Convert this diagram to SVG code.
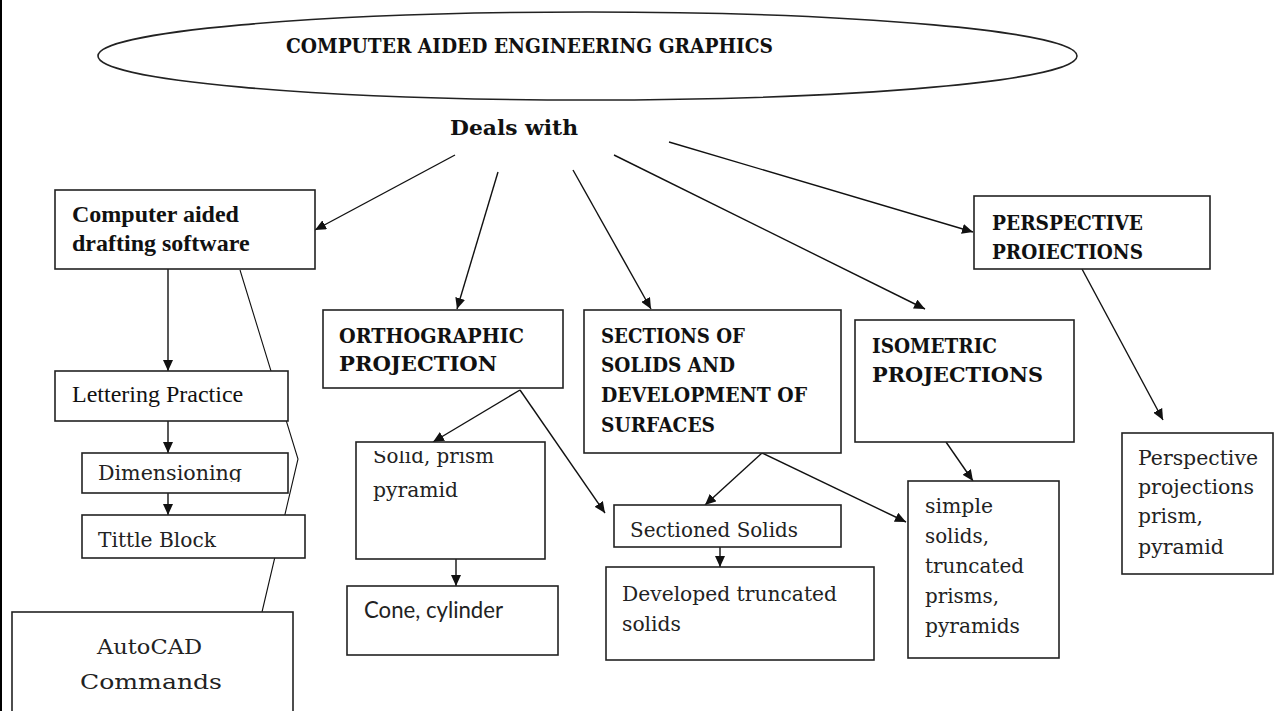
<svg xmlns="http://www.w3.org/2000/svg" width="1275" height="711" viewBox="0 0 1275 711">
<style>
.box{fill:#fff;stroke:#222;stroke-width:1.6}
.ln{stroke:#111;stroke-width:1.4;fill:none}
.tb{font-family:"Liberation Serif",serif;font-weight:bold;font-size:24px;fill:#111}
.tr{font-family:"Liberation Serif",serif;font-size:24px;fill:#111}
.cb{font-family:"DejaVu Serif","Liberation Serif",serif;font-weight:bold;font-size:21px;fill:#111}
.cr{font-family:"DejaVu Serif","Liberation Serif",serif;font-size:21px;fill:#222}
.sn{font-family:Lato,"Liberation Sans",sans-serif;font-size:23px;fill:#222}
</style>
<defs>
<marker id="ah" markerUnits="userSpaceOnUse" markerWidth="11" markerHeight="10" refX="11" refY="5" orient="auto">
<path d="M0,0 L11,5 L0,10 z" fill="#111"/>
</marker>
<clipPath id="clipDim"><rect x="82" y="453" width="206" height="29"/></clipPath>
<clipPath id="clipSolid"><rect x="356" y="451" width="189" height="108"/></clipPath>
</defs>
<rect width="1275" height="711" fill="#fff"/>
<line x1="1" y1="0" x2="1" y2="711" stroke="#000" stroke-width="2"/>

<g id="title">
<ellipse cx="587.5" cy="56" rx="489.5" ry="44" fill="none" stroke="#222" stroke-width="1.6"/>
<text class="cb" x="286" y="53" font-size="19.5" textLength="487" lengthAdjust="spacingAndGlyphs">COMPUTER AIDED ENGINEERING GRAPHICS</text>
</g>
<g id="deals">
<text class="cb" x="450" y="135" font-size="21" textLength="128" lengthAdjust="spacingAndGlyphs">Deals with</text>
</g>

<g id="connectors">
<line class="ln" x1="455" y1="155" x2="315" y2="230" marker-end="url(#ah)"/>
<line class="ln" x1="498" y1="172" x2="457" y2="309" marker-end="url(#ah)"/>
<line class="ln" x1="573" y1="170" x2="651" y2="309" marker-end="url(#ah)"/>
<line class="ln" x1="614" y1="155" x2="925" y2="309" marker-end="url(#ah)"/>
<line class="ln" x1="669" y1="142" x2="973" y2="232" marker-end="url(#ah)"/>
<line class="ln" x1="168" y1="269" x2="168" y2="371" marker-end="url(#ah)"/>
<line class="ln" x1="168" y1="421" x2="168" y2="453" marker-end="url(#ah)"/>
<line class="ln" x1="168" y1="493" x2="168" y2="515" marker-end="url(#ah)"/>
<line class="ln" x1="520" y1="390" x2="433" y2="442" marker-end="url(#ah)"/>
<line class="ln" x1="520" y1="390" x2="605" y2="513" marker-end="url(#ah)"/>
<line class="ln" x1="456" y1="559" x2="456" y2="586" marker-end="url(#ah)"/>
<line class="ln" x1="762" y1="453" x2="705" y2="505" marker-end="url(#ah)"/>
<line class="ln" x1="762" y1="453" x2="906" y2="522" marker-end="url(#ah)"/>
<line class="ln" x1="720" y1="547" x2="720" y2="567" marker-end="url(#ah)"/>
<line class="ln" x1="946" y1="442" x2="973" y2="481" marker-end="url(#ah)"/>
<line class="ln" x1="1082" y1="269" x2="1163" y2="420" marker-end="url(#ah)"/>
<polyline points="240,270 298,459 262,612" fill="none" stroke="#111" stroke-width="1.1"/>
</g>

<g id="cad-software">
<rect class="box" x="55" y="190" width="260" height="79"/>
<text class="tb" x="72" y="222">Computer aided</text>
<text class="tb" x="72" y="251">drafting software</text>
</g>
<g id="lettering">
<rect class="box" x="55" y="371" width="233" height="50"/>
<text class="tr" x="72" y="402">Lettering Practice</text>
</g>
<g id="dimensioning">
<rect class="box" x="82" y="453" width="206" height="40"/>
<text class="cr" x="98" y="480" textLength="144" lengthAdjust="spacingAndGlyphs" clip-path="url(#clipDim)">Dimensioning</text>
</g>
<g id="title-block">
<rect class="box" x="82" y="515" width="223" height="43"/>
<text class="cr" x="98" y="547" textLength="118" lengthAdjust="spacingAndGlyphs">Tittle Block</text>
</g>
<g id="autocad">
<rect class="box" x="12" y="612" width="281" height="110"/>
<text class="cr" x="97" y="654" font-size="27" textLength="105" lengthAdjust="spacingAndGlyphs">AutoCAD</text>
<text class="cr" x="80" y="689" font-size="27" textLength="142" lengthAdjust="spacingAndGlyphs">Commands</text>
</g>

<g id="orthographic">
<rect class="box" x="323" y="310" width="240" height="78"/>
<text class="cb" x="339" y="343" textLength="185" lengthAdjust="spacingAndGlyphs">ORTHOGRAPHIC</text>
<text class="cb" x="339" y="371" textLength="158" lengthAdjust="spacingAndGlyphs">PROJECTION</text>
</g>
<g id="solid-prism">
<rect class="box" x="356" y="442" width="189" height="117"/>
<g clip-path="url(#clipSolid)">
<text class="cr" x="373" y="463" textLength="121" lengthAdjust="spacingAndGlyphs">Solid, prism</text>
<text class="cr" x="373" y="497" textLength="85" lengthAdjust="spacingAndGlyphs">pyramid</text>
</g>
</g>
<g id="cone">
<rect class="box" x="347" y="586" width="211" height="69"/>
<text class="sn" x="364" y="618" textLength="139" lengthAdjust="spacingAndGlyphs">Cone, cylinder</text>
</g>

<g id="sections">
<rect class="box" x="584" y="310" width="257" height="143"/>
<text class="cb" x="601" y="343" textLength="144" lengthAdjust="spacingAndGlyphs">SECTIONS OF</text>
<text class="cb" x="601" y="372" textLength="134" lengthAdjust="spacingAndGlyphs">SOLIDS AND</text>
<text class="cb" x="601" y="402" textLength="206" lengthAdjust="spacingAndGlyphs">DEVELOPMENT OF</text>
<text class="cb" x="601" y="432" textLength="114" lengthAdjust="spacingAndGlyphs">SURFACES</text>
</g>
<g id="sectioned-solids">
<rect class="box" x="614" y="505" width="227" height="42"/>
<text class="cr" x="630" y="537" textLength="168" lengthAdjust="spacingAndGlyphs">Sectioned Solids</text>
</g>
<g id="developed">
<rect class="box" x="606" y="567" width="268" height="93"/>
<text class="cr" x="622" y="601" textLength="215" lengthAdjust="spacingAndGlyphs">Developed truncated</text>
<text class="cr" x="622" y="631" textLength="59" lengthAdjust="spacingAndGlyphs">solids</text>
</g>

<g id="isometric">
<rect class="box" x="855" y="320" width="219" height="122"/>
<text class="cb" x="872" y="353" textLength="125" lengthAdjust="spacingAndGlyphs">ISOMETRIC</text>
<text class="cb" x="872" y="382" textLength="171" lengthAdjust="spacingAndGlyphs">PROJECTIONS</text>
</g>
<g id="simple-solids">
<rect class="box" x="908" y="481" width="151" height="177"/>
<text class="cr" x="925" y="513" textLength="68" lengthAdjust="spacingAndGlyphs">simple</text>
<text class="cr" x="925" y="543" textLength="64" lengthAdjust="spacingAndGlyphs">solids,</text>
<text class="cr" x="925" y="573" textLength="99" lengthAdjust="spacingAndGlyphs">truncated</text>
<text class="cr" x="925" y="603" textLength="74" lengthAdjust="spacingAndGlyphs">prisms,</text>
<text class="cr" x="925" y="633" textLength="95" lengthAdjust="spacingAndGlyphs">pyramids</text>
</g>

<g id="perspective">
<rect class="box" x="974" y="196" width="236" height="73"/>
<text class="cb" x="992" y="230" textLength="151" lengthAdjust="spacingAndGlyphs">PERSPECTIVE</text>
<text class="cb" x="992" y="259" textLength="151" lengthAdjust="spacingAndGlyphs">PROIECTIONS</text>
</g>
<g id="perspective-prism">
<rect class="box" x="1122" y="433" width="151" height="141"/>
<text class="cr" x="1138" y="465" textLength="120" lengthAdjust="spacingAndGlyphs">Perspective</text>
<text class="cr" x="1138" y="494" textLength="116" lengthAdjust="spacingAndGlyphs">projections</text>
<text class="cr" x="1138" y="523" textLength="65" lengthAdjust="spacingAndGlyphs">prism,</text>
<text class="cr" x="1138" y="554" textLength="86" lengthAdjust="spacingAndGlyphs">pyramid</text>
</g>
</svg>
